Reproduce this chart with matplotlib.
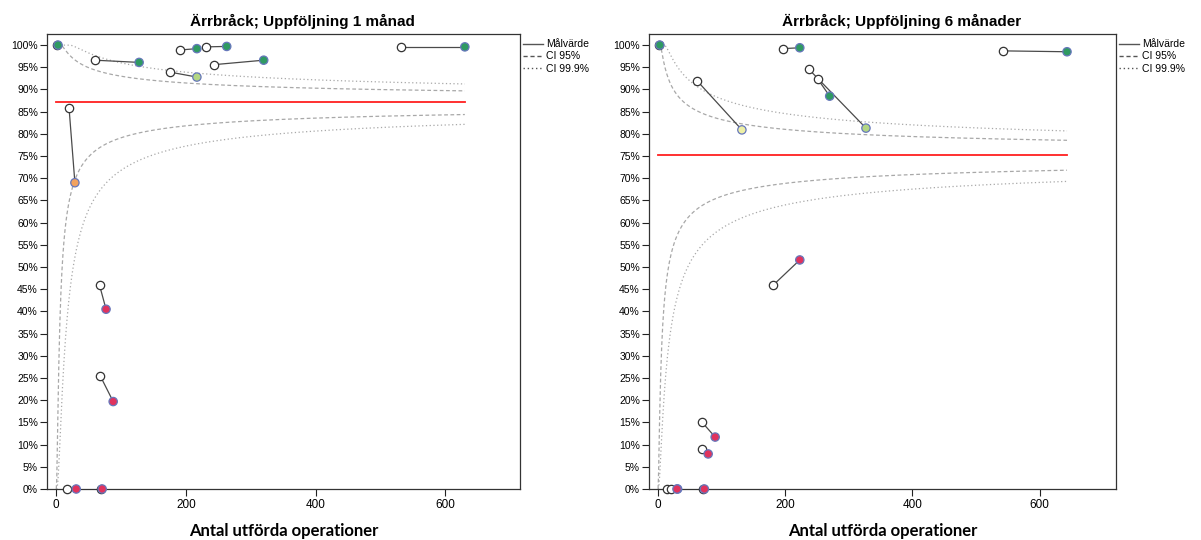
"""Funnel plots: Ärrbråck, uppföljning 1 och 6 månader."""
import numpy as np
import matplotlib
matplotlib.use("Agg")
import matplotlib.pyplot as plt
from matplotlib.lines import Line2D

# === Data ===
# 1 månad
m1_target = 0.872
m1_prev_n = [2, 60, 191, 231, 176, 244, 532, 20, 67, 68, 17, 69]
m1_prev_y = [100, 96.6, 98.9, 99.6, 93.9, 95.6, 99.6, 85.8, 45.9, 25.5, 0, 0]
m1_curr_n = [3, 128, 217, 263, 217, 320, 630, 29, 77, 88, 31, 71]
m1_curr_y = [100, 96.1, 99.2, 99.7, 92.8, 96.6, 99.6, 69.0, 40.5, 19.7, 0, 0]
m1_class = ["hi", "hi", "hi", "hi", "ok", "hi", "hi", "mid", "lo", "lo", "lo", "lo"]

# 6 månader
m6_target = 0.753
m6_prev_n = [2, 196, 62, 237, 251, 542, 181, 69, 70, 15, 21, 71]
m6_prev_y = [100, 99.2, 91.9, 94.6, 92.4, 98.7, 45.9, 15.1, 9.0, 0, 0, 0]
m6_curr_n = [3, 223, 132, 327, 270, 643, 223, 90, 79, 31, 30, 73]
m6_curr_y = [100, 99.4, 80.9, 81.3, 88.5, 98.5, 51.6, 11.7, 7.9, 0, 0, 0]
m6_class = ["hi", "hi", "pale", "ok", "hi", "hi", "lo", "lo", "lo", "lo", "lo", "lo"]

colmap = {"hi": "#2f9a62", "ok": "#b3d683", "pale": "#eef0a6",
          "mid": "#f2a25e", "lo": "#e0335e"}

titles = ["Ärrbråck; Uppföljning 1 månad", "Ärrbråck; Uppföljning 6 månader"]
xlabel = "Antal utförda operationer"
ci_z = {"95": 1.96, "999": 3.29}

plt.rcParams["font.family"] = ["Liberation Sans", "DejaVu Sans"]

fig = plt.figure(figsize=(12.01, 5.40), dpi=100)
ax1 = fig.add_axes([47 / 1201, 51 / 540, 473 / 1201, 455 / 540])
ax2 = fig.add_axes([649 / 1201, 51 / 540, 467 / 1201, 455 / 540])

panels = [
    (ax1, m1_target, m1_prev_n, m1_prev_y, m1_curr_n, m1_curr_y, m1_class, titles[0], (-14, 715)),
    (ax2, m6_target, m6_prev_n, m6_prev_y, m6_curr_n, m6_curr_y, m6_class, titles[1], (-14, 720)),
]


def funnel(p, n, z):
    # upper: arcsine-sqrt scale, lower: logit scale (fits the original best)
    th = np.arcsin(np.sqrt(p)) + z / (2 * np.sqrt(n))
    up = np.sin(np.minimum(th, np.pi / 2)) ** 2
    lg = np.log(p / (1 - p))
    se = 1 / np.sqrt(n * p * (1 - p))
    lo = 1 / (1 + np.exp(-(lg - z * se)))
    return 100 * up, 100 * lo


for ax, p, pn, py, cn, cy, cls, title, xl in panels:
    nmax = max(cn)
    n = np.linspace(0.3, nmax, 800)
    for key, ls in [("95", (0, (3, 2))), ("999", (0, (1, 2)))]:
        up, lo = funnel(p, n, ci_z[key])
        ax.plot(n, up, color="#a8a8a8", linestyle=ls, linewidth=0.9, zorder=1)
        ax.plot(n, lo, color="#a8a8a8", linestyle=ls, linewidth=0.9, zorder=1)
    ax.plot([0, nmax], [p * 100, p * 100], color="#ff2020", linewidth=1.3, zorder=2)

    for i in range(len(pn)):
        ax.plot([pn[i], cn[i]], [py[i], cy[i]], color="#4a4a4a", linewidth=0.9, zorder=3)
    ax.scatter(pn, py, s=36, facecolor="white", edgecolor="#333333",
               linewidth=0.9, zorder=4, clip_on=False)
    ax.scatter(cn, cy, s=36, facecolor=[colmap[c] for c in cls],
               edgecolor="#6677bb", linewidth=0.9, zorder=5, clip_on=False)

    ax.set_xlim(*xl)
    ax.set_ylim(0, 102.5)
    ax.set_yticks(np.arange(0, 101, 5))
    ax.set_yticklabels([f"{v}%" for v in range(0, 101, 5)])
    ax.set_xticks([0, 200, 400, 600])
    ax.tick_params(labelsize=7.5, length=5, width=0.8, color="#222222", pad=1.5)
    ax.tick_params(axis="x", labelsize=8.5, pad=2.5)
    for s in ax.spines.values():
        s.set_color("#333333")
        s.set_linewidth(0.9)
    ax.set_title(title, fontsize=11, fontweight="bold", x=0.54, pad=6)
    ax.set_xlabel(xlabel, fontsize=12, fontweight="bold", labelpad=8,
                  family=["Lato", "DejaVu Sans"])

    handles = [Line2D([], [], color="#555555", linewidth=1.0),
               Line2D([], [], color="#555555", linewidth=1.0, linestyle=(0, (3, 2))),
               Line2D([], [], color="#555555", linewidth=1.0, linestyle=(0, (1, 2)))]
    ax.legend(handles, ["Målvärde", "CI 95%", "CI 99.9%"], loc="upper left",
              bbox_to_anchor=(1.0, 0.995), frameon=False, fontsize=7.5,
              handlelength=1.9, handletextpad=0.3, labelspacing=0.2,
              borderaxespad=0.2, borderpad=0.1)

plt.savefig("out.png", dpi=100)
plt.close("all")
